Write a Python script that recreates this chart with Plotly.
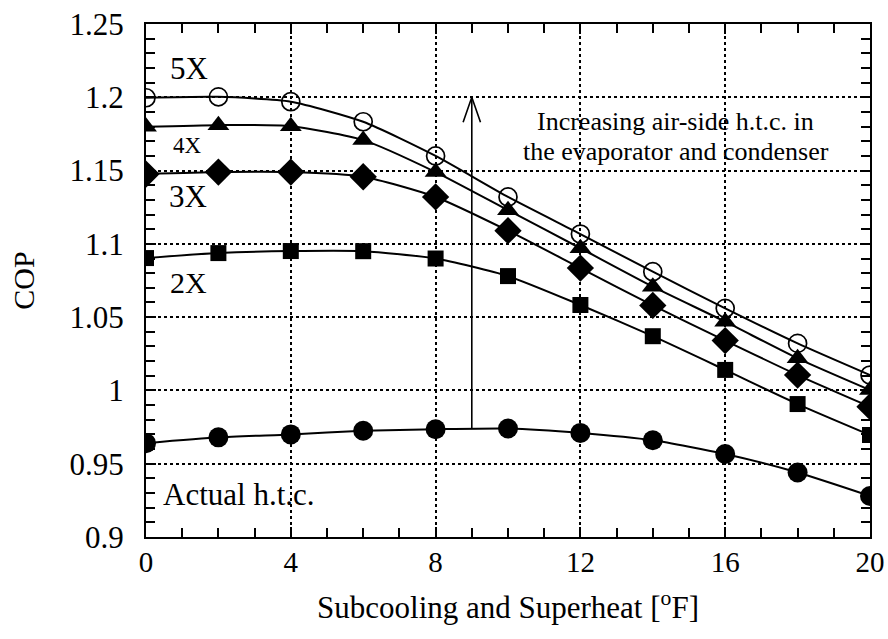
import plotly.graph_objects as go

# Subcooling/superheat setting [°F]
x_vals = [0, 2, 4, 6, 8, 10, 12, 14, 16, 18, 20]

# COP for each air-side heat transfer coefficient multiplier
cop_actual = [0.964, 0.968, 0.970, 0.9725, 0.9735, 0.974, 0.971, 0.966, 0.9566, 0.944, 0.928]
cop_2x = [1.0903, 1.0937, 1.0951, 1.095, 1.090, 1.078, 1.0583, 1.037, 1.014, 0.9907, 0.9696]
cop_3x = [1.1476, 1.149, 1.149, 1.1458, 1.132, 1.109, 1.0835, 1.058, 1.034, 1.0105, 0.9889]
cop_4x = [1.1799, 1.181, 1.1803, 1.1708, 1.149, 1.123, 1.097, 1.0708, 1.0469, 1.0219, 1.0003]
cop_5x = [1.1997, 1.2003, 1.197, 1.1833, 1.1600, 1.132, 1.1067, 1.081, 1.056, 1.0321, 1.0105]

x_ticks = [0, 4, 8, 12, 16, 20]
y_ticks = [0.9, 0.95, 1.0, 1.05, 1.1, 1.15, 1.2, 1.25]
y_tick_text = ["0.9", "0.95", "1", "1.05", "1.1", "1.15", "1.2", "1.25"]

FONT = "Liberation Serif"

series = [
    (cop_actual, "circle", 20, "black", 0),
    (cop_2x, "square", 16, "black", 0),
    (cop_3x, "diamond", 21, "black", 0),
    (cop_4x, "triangle-up", 19, "black", 0),
    (cop_5x, "circle-open", 18, "black", 1.7),
]

fig = go.Figure()
for vals, sym, size, color, lw in series:
    fig.add_trace(go.Scatter(
        x=x_vals, y=vals, mode="lines+markers",
        line=dict(color="black", width=2, shape="spline", smoothing=0.6),
        marker=dict(symbol=sym, size=size, color=color,
                    line=dict(color="black", width=lw)),
        showlegend=False, hoverinfo="skip",
    ))

# Arrow indicating increasing air-side h.t.c.
arrow_x = 9
arrow_base = 0.974
arrow_tip = 1.2
fig.add_trace(go.Scatter(
    x=[arrow_x, arrow_x], y=[arrow_base, arrow_tip], mode="lines",
    line=dict(color="black", width=1.6), showlegend=False, hoverinfo="skip",
))
fig.add_trace(go.Scatter(
    x=[arrow_x - 0.24, arrow_x, arrow_x + 0.24],
    y=[arrow_tip - 0.017, arrow_tip, arrow_tip - 0.017], mode="lines",
    line=dict(color="black", width=1.6), showlegend=False, hoverinfo="skip",
))

labels = [
    ("5X", 0.6, 1.2196, 31),
    ("4X", 0.69, 1.1674, 23),
    ("3X", 0.58, 1.132, 31),
    ("2X", 0.6, 1.0733, 30),
    ("Actual h.t.c.", 0.42, 0.9287, 31),
]
for text, xx, yy, fs in labels:
    fig.add_annotation(x=xx, y=yy, text=text, showarrow=False, xanchor="left",
                       yanchor="middle", font=dict(family=FONT, size=fs, color="black"))

fig.add_annotation(x=14.64, y=0.9 + (537 - 121) / 1466, text="Increasing air-side h.t.c. in",
                   showarrow=False, font=dict(family=FONT, size=26, color="black"))
fig.add_annotation(x=14.64, y=0.9 + (537 - 151) / 1466, text="the evaporator and condenser",
                   showarrow=False, font=dict(family=FONT, size=26, color="black"))

axis_common = dict(
    showline=True, linecolor="black", linewidth=2, mirror="allticks",
    ticks="inside", ticklen=10, tickwidth=1.5, tickcolor="black",
    showgrid=True, gridcolor="black", griddash="dot", gridwidth=1.5,
    zeroline=False, automargin=False,
)

fig.update_xaxes(
    range=[0, 20], tickvals=x_ticks, **axis_common,
    tickfont=dict(family=FONT, size=29, color="black"), ticklabelstandoff=-2,
    minor=dict(dtick=1, ticks="inside", ticklen=9, tickwidth=1.5, tickcolor="black", showgrid=False),
    title=dict(text="Subcooling and Superheat [<sup>o</sup>F]",
               font=dict(family=FONT, size=31, color="black"), standoff=20),
)
fig.update_yaxes(
    range=[0.9, 1.25], tickvals=y_ticks, ticktext=y_tick_text, **axis_common,
    tickfont=dict(family=FONT, size=31, color="black"), ticklabelstandoff=14,
    minor=dict(dtick=0.01, tick0=0.9, ticks="inside", ticklen=9, tickwidth=1.5, tickcolor="black", showgrid=False),
    title=dict(text="COP", font=dict(family=FONT, size=30, color="black"), standoff=26),
)

fig.update_layout(
    width=888, height=639,
    margin=dict(l=146, r=18, t=24, b=102),
    paper_bgcolor="white", plot_bgcolor="white",
)

fig.write_html("out.html")
